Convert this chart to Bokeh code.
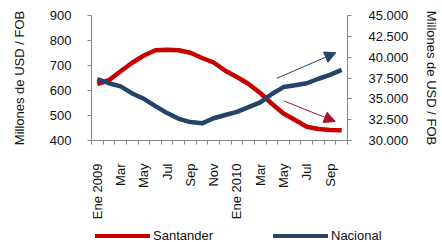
import math
from bokeh.plotting import figure
from bokeh.layouts import column
from bokeh.models import (Range1d, LinearAxis, FixedTicker, Arrow, NormalHead,
                          ColumnDataSource, Div)
from bokeh.embed import file_html
from bokeh.resources import INLINE

# ---------------- data ----------------
months = ["Ene 2009", "Feb", "Mar", "Abr", "May", "Jun", "Jul", "Ago", "Sep", "Oct", "Nov", "Dic",
          "Ene 2010", "Feb", "Mar", "Abr", "May", "Jun", "Jul", "Ago", "Sep", "Oct"]
santander = [626, 641, 677, 711, 740, 761, 763, 761, 751, 730, 712, 679,
             654, 626, 590, 547, 508, 482, 455, 446, 442, 441]
nacional = [37370, 36870, 36490, 35650, 35000, 34120, 33290, 32600, 32210, 32060, 32670, 33060,
            33430, 34010, 34580, 35580, 36410, 36640, 36870, 37410, 37870, 38470]
series_names = ["Santander", "Nacional"]
left_ticks = [400, 500, 600, 700, 800, 900]
right_ticks = [30000, 32500, 35000, 37500, 40000, 42500, 45000]
right_tick_labels = ["30.000", "32.500", "35.000", "37.500", "40.000", "42.500", "45.000"]
# trend arrows (month index, value)
arrow_nac = [15.45, 37480, 20.5, 40530]
arrow_san = [16.05, 558, 20.45, 476]

RED = "#C80000"
BLUE = "#26436A"
RED_ARROW = "#A8102C"
AXIS = "#868686"
TXT = "#111111"
FONT = "Liberation Sans"
FS = "13px"

x = list(range(len(months)))
src = ColumnDataSource(dict(x=x, san=santander, nac=nacional))

p = figure(width=442, height=222, output_backend="svg", toolbar_location=None,
           x_range=Range1d(-0.5, len(months) - 0.5),
           y_range=Range1d(left_ticks[0], left_ticks[-1]),
           min_border_left=91, min_border_right=88, min_border_top=15, min_border_bottom=76)
p.extra_y_ranges = {"nac": Range1d(right_ticks[0], right_ticks[-1])}
p.outline_line_color = None
p.xgrid.visible = False
p.ygrid.visible = False

# x axis
xa = p.xaxis[0]
xa.ticker = FixedTicker(ticks=x[::2], minor_ticks=[i - 0.5 for i in range(len(months) + 1)])
xa.major_label_overrides = {i: months[i] for i in x[::2]}
xa.major_label_orientation = math.pi / 2
xa.major_tick_line_color = None
xa.minor_tick_in = 0
xa.minor_tick_out = 4
xa.minor_tick_line_color = AXIS
xa.axis_line_color = AXIS
xa.major_label_standoff = 17

# left axis
ya = p.yaxis[0]
ya.ticker = FixedTicker(ticks=left_ticks, minor_ticks=[])
ya.axis_label = "Millones de USD / FOB"
ya.major_label_standoff = 16
ya.axis_label_standoff = 20

# right axis
ra = LinearAxis(y_range_name="nac", ticker=FixedTicker(ticks=right_ticks, minor_ticks=[]),
                axis_label="Millones de USD / FOB")
ra.major_label_overrides = {t: l for t, l in zip(right_ticks, right_tick_labels)}
ra.major_label_standoff = 17
ra.axis_label_standoff = 13
p.add_layout(ra, "right")

for ax in (ya, ra):
    ax.axis_line_color = AXIS
    ax.major_tick_line_color = AXIS
    ax.major_tick_in = 0
    ax.major_tick_out = 4
    ax.minor_tick_line_color = None
    ax.axis_label_text_font_style = "normal"
    ax.axis_label_text_font_size = FS
    ax.axis_label_text_font = FONT
    ax.axis_label_text_color = TXT
for ax in (xa, ya, ra):
    ax.major_label_text_font = FONT
    ax.major_label_text_font_size = FS
    ax.major_label_text_color = TXT

p.line("x", "san", source=src, line_color=RED, line_width=4.5, line_join="round")
p.line("x", "nac", source=src, y_range_name="nac", line_color=BLUE, line_width=4.5,
       line_join="round")

p.add_layout(Arrow(x_start=arrow_nac[0], y_start=arrow_nac[1], x_end=arrow_nac[2], y_end=arrow_nac[3],
                   y_range_name="nac", line_color=BLUE, line_width=1,
                   end=NormalHead(size=11, fill_color=BLUE, line_color=BLUE, line_width=1)))
p.add_layout(Arrow(x_start=arrow_san[0], y_start=arrow_san[1], x_end=arrow_san[2], y_end=arrow_san[3],
                   line_color=RED_ARROW, line_width=1,
                   end=NormalHead(size=11, fill_color=RED_ARROW, line_color=RED_ARROW, line_width=1)))

# legend strip along the bottom edge
legend_left = [95, 273]
parts = []
for name, color, lx in zip(series_names, [RED, BLUE], legend_left):
    parts.append(f"<div style='position:absolute;left:{lx}px;top:12px;width:55px;height:3.5px;"
                 f"background:{color}'></div>")
    parts.append(f"<div style='position:absolute;left:{lx + 58}px;top:6px;line-height:16px;"
                 f"white-space:nowrap'>{name}</div>")
html = ("<div style=\"position:relative;width:442px;height:20px;overflow:hidden;"
        f"font-family:'{FONT}';font-size:{FS};color:{TXT}\">" + "".join(parts) + "</div>")
leg = Div(text=html, width=442, height=20, margin=0)

layout = column(p, leg, spacing=0)
open("out.html", "w").write(file_html(layout, INLINE))
